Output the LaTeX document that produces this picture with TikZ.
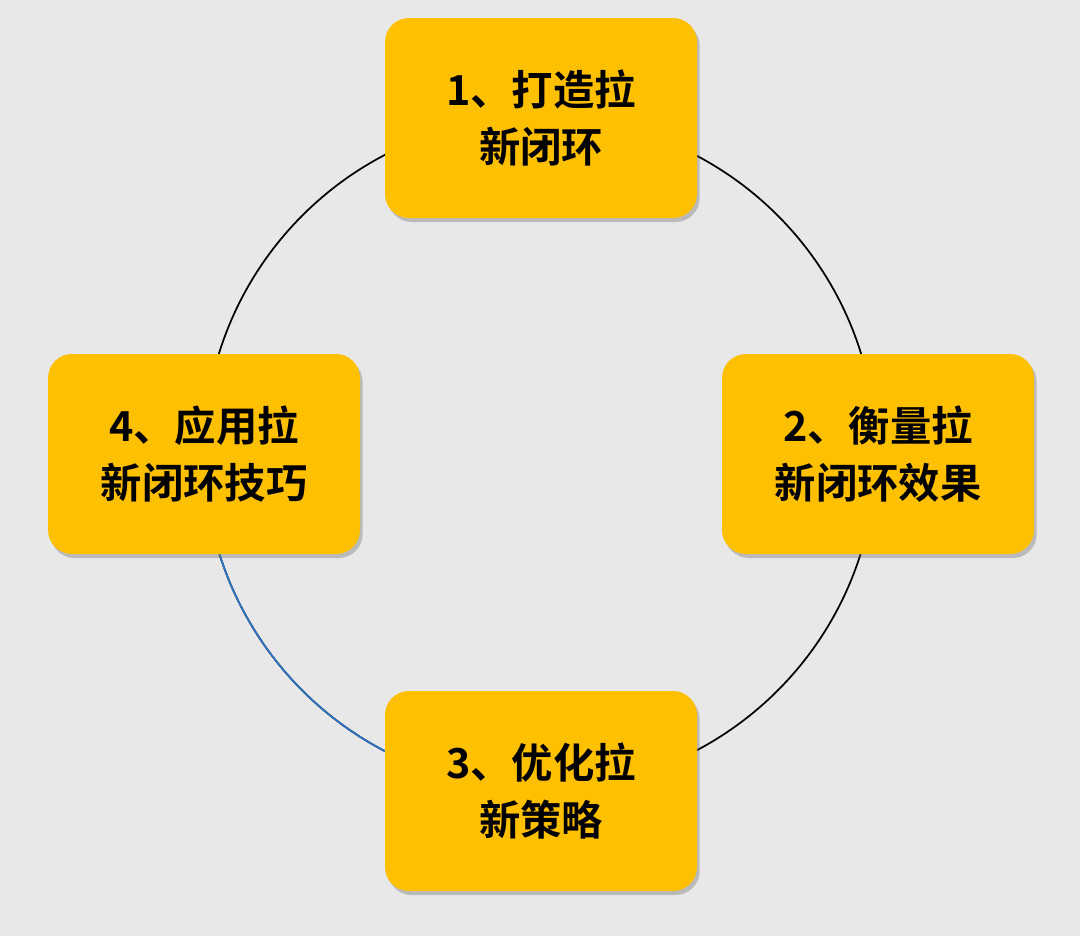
\documentclass[tikz,border=0pt]{standalone}
\usepackage{fontspec}
\setmainfont{Noto Sans CJK SC}[BoldFont={Noto Sans CJK SC Bold}]
\usetikzlibrary{shadows}
\definecolor{bg}{HTML}{E8E8E8}
\definecolor{boxy}{HTML}{FFC000}
\definecolor{arcblue}{HTML}{2E75C6}
\begin{document}
\begin{tikzpicture}[x=0.75pt,y=-0.75pt,
  stepbox/.style={fill=boxy,rounded corners=18pt,minimum width=234pt,minimum height=150pt,
    align=center,font=\fontsize{31}{43}\selectfont\bfseries,
    drop shadow={opacity=0.35,shadow xshift=2pt,shadow yshift=-3pt,fill=black!60}},
  ring/.style={line width=1.3pt}]
\fill[bg] (0,0) rectangle (1080,936);
\useasboundingbox (0,0) rectangle (1080,936);
\coordinate (c) at (540,453);
\draw[ring,black] (c) circle[radius=336];
\draw[ring,arcblue] ([shift={(180:336)}]c) arc[start angle=180,end angle=90,radius=336];
\node[stepbox] (s1) at (541,118) {1、打造拉\\新闭环};
\node[stepbox] (s2) at (878,454) {2、衡量拉\\新闭环效果};
\node[stepbox] (s3) at (541,791) {3、优化拉\\新策略};
\node[stepbox] (s4) at (204,454) {4、应用拉\\新闭环技巧};
\end{tikzpicture}
\end{document}
